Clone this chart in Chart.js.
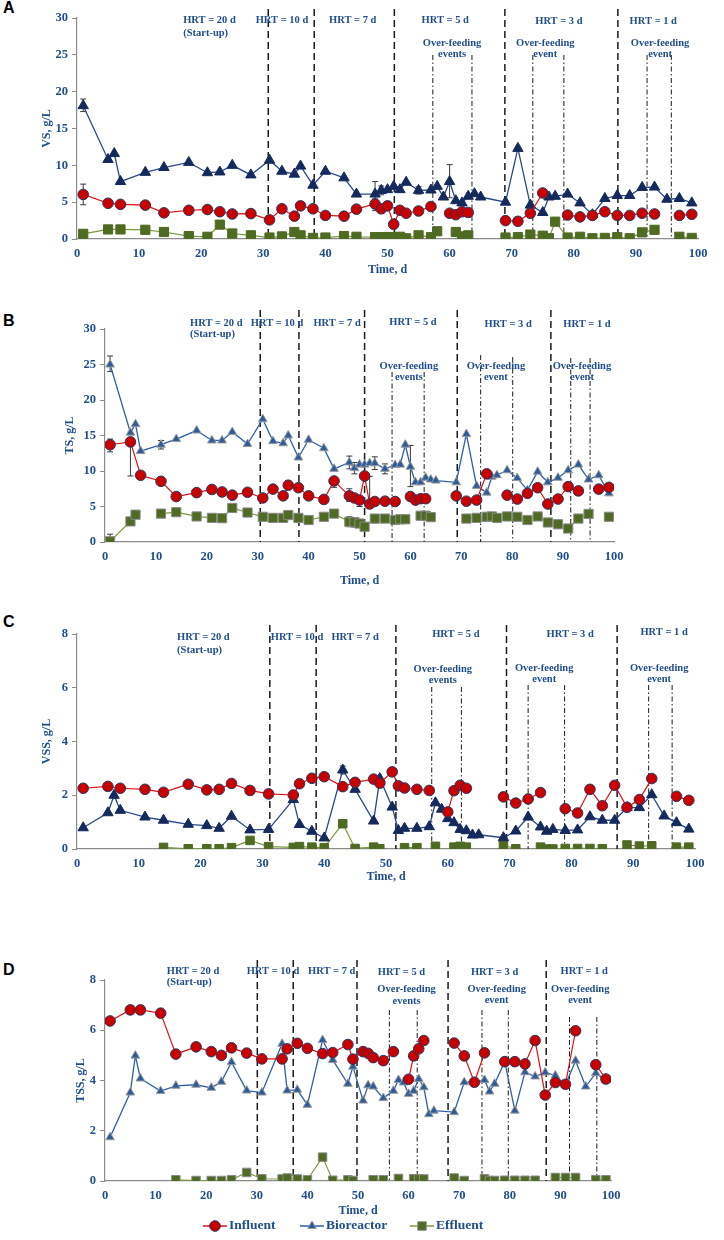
<!DOCTYPE html>
<html>
<head>
<meta charset="utf-8">
<script src="https://cdn.jsdelivr.net/npm/chart.js@4.4.1/dist/chart.umd.min.js"></script>
<style>
  body { margin: 0; background: #fff; width: 724px; height: 1240px; position: relative; overflow: hidden; }
  canvas { position: absolute; left: 0; }
  .tag { position: absolute; left: 3px; font: bold 16px "Liberation Sans", Arial, sans-serif; line-height: 16px; color: #000; }
</style>
</head>
<body>
<div class="tag" style="top:0px">A</div>
<div class="tag" style="top:313px">B</div>
<div class="tag" style="top:614px">C</div>
<div class="tag" style="top:962px">D</div>
<canvas id="cA" width="724" height="290" style="top:0px"></canvas>
<canvas id="cB" width="724" height="300" style="top:290px"></canvas>
<canvas id="cC" width="724" height="300" style="top:590px"></canvas>
<canvas id="cD" width="724" height="350" style="top:890px"></canvas>
<script>
// ---- data (days, g/L); null = break in the line ----
const seriesNames = ["Influent", "Bioreactor", "Effluent"];

// A: VS
const aInfDays = [1,5,7,11,14,18,21,23,25,28,31,33,35,36,38,40,43,45,48,49,50,51,52,53,55,57,59,60,61,62,63,66,69,71,73,75,77,79,81,83,85,87,89,91,93,95,97,99];
const aInf = [6.05,4.85,4.7,4.6,3.55,3.9,4.0,3.7,3.4,3.45,2.6,4.1,3.1,4.5,4.1,3.2,3.1,4.05,4.75,4.1,4.5,2.0,3.9,3.5,3.8,4.4,null,3.5,3.3,3.7,3.6,null,2.5,2.4,3.5,6.25,null,3.25,3.0,3.2,3.7,3.2,3.2,3.5,3.4,null,3.2,3.35];
const aBioDays = [1,5,6,7,11,14,18,21,23,25,28,31,33,35,36,38,40,43,45,48,49,50,51,52,53,55,57,58,59,60,61,62,63,64,65,69,71,73,75,76,77,79,81,83,85,87,89,91,93,95,97,99];
const aBio = [18.1,10.8,11.6,7.8,9.05,9.7,10.4,9.0,9.1,10.0,8.7,10.7,9.2,8.8,9.9,7.3,9.2,8.3,6.1,6.1,6.6,6.7,7.15,6.7,7.7,6.6,6.65,7.15,5.7,7.8,5.2,4.9,5.8,6.15,5.7,5.0,12.3,4.6,3.6,5.7,5.8,6.1,4.9,3.3,5.5,5.9,5.9,7.0,7.05,5.4,5.5,4.9];
const aEffDays = [1,5,7,11,14,18,21,23,25,28,31,33,35,36,38,40,43,45,48,49,50,51,52,53,55,57,58,60,61,62,63,66,69,71,73,75,76,77,79,81,83,85,87,89,91,93,95,97,99];
const aEff = [0.7,1.3,1.3,1.25,0.95,0.4,0.3,1.95,0.75,0.5,0.2,0.35,0.95,0.5,0.15,0.2,0.4,0.3,0.25,0.25,0.25,0.25,0.3,0.1,0.5,0.25,1.05,null,0.95,0.35,0.5,null,0.2,0.25,0.6,0.45,0.1,2.35,0.2,0.3,0.1,0.15,0.25,0.1,0.9,1.25,null,0.3,0.15];
const aInfErr = [[1,1.4,1.4],[48,0.9,0.7],[49,0.6,0.6],[51,0.6,0.6],[73,0.6,0.6]];
const aBioErr = [[1,0.8,0.9],[48,1.6,1.7],[49,0.6,0.6],[55,0.5,0.5],[60,2.2,2.3]];
const aEffErr = [[23,0.5,0.5]];

// B: TS
const bInfDays = [1,5,7,11,14,18,21,23,25,28,31,33,35,36,38,40,43,45,48,49,50,51,52,53,55,57,59,60,61,62,63,66,69,71,73,75,77,79,81,83,85,87,89,91,93,95,97,99];
const bInf = [13.7,14.1,9.4,8.55,6.4,6.95,7.4,7.05,6.6,7.0,6.2,7.45,6.5,8.0,7.65,6.5,6.0,8.6,6.5,6.2,5.9,9.3,5.35,5.7,5.75,5.7,null,6.4,5.9,6.1,6.1,null,6.5,5.75,5.9,9.6,null,6.6,6.05,6.85,7.65,5.35,6.05,7.8,7.2,null,7.45,7.7];
const bBioDays = [1,5,6,7,11,14,18,21,23,25,28,31,33,35,36,38,40,43,45,48,49,50,51,52,53,55,57,58,59,60,61,62,63,64,65,69,71,73,75,76,77,79,81,83,85,87,89,91,93,95,97,99];
const bBio = [25.0,15.4,16.6,12.8,13.7,14.5,15.7,14.3,14.3,15.5,13.8,17.3,14.2,13.9,15.0,11.9,14.4,13.2,10.3,11.2,10.4,10.9,10.9,11.1,11.1,10.3,10.85,10.9,13.7,10.6,8.4,8.4,9.05,8.8,8.65,8.4,15.2,7.9,6.95,9.2,9.4,10.1,9.0,7.3,9.9,8.4,9.05,10.1,10.9,8.8,9.4,6.85];
const bEffDays = [1,5,6,7,11,14,18,21,23,25,28,31,33,35,36,38,40,43,45,48,49,50,51,53,55,57,58,59,60,62,63,64,66,71,73,75,76,77,79,81,83,85,87,89,91,93,95,97,99];
const bEff = [0.1,2.9,3.85,null,4.0,4.2,3.6,3.4,3.35,4.8,4.15,3.55,3.4,3.4,3.8,3.4,3.1,3.55,4.0,2.85,2.8,2.6,2.15,3.3,3.3,3.1,3.2,3.2,null,3.7,3.7,3.5,null,3.3,3.4,3.55,3.6,3.4,3.6,3.55,3.1,3.6,2.75,2.5,1.9,3.3,3.95,null,3.55];
const bInfErr = [[1,1.0,0.8],[5,4.8,0.5],[36,0,0.6],[45,0.9,0],[48,0.8,1.0],[50,0.9,0],[52,0,3.9]];
const bBioErr = [[1,1.0,1.2],[11,0.6,0.6],[48,0.9,0.9],[49,0.8,0.8],[53,0.9,0.9],[55,0.7,0.7],[60,2.8,3.0]];
const bEffErr = [[1,0,1.0],[48,0.7,0.7],[49,0.7,0.5],[53,0.6,0.5],[55,0.5,0.5]];

// C: VSS
const cInfDays = [1,5,7,11,14,18,21,23,25,28,31,35,36,38,40,43,45,48,49,51,52,53,55,57,59,60,61,62,63,66,69,71,73,75,77,79,81,83,85,87,89,91,93,95,97,99];
const cInf = [2.26,2.33,2.26,2.22,2.11,2.41,2.2,2.22,2.44,2.18,2.05,2.01,2.43,2.63,2.69,2.32,2.48,2.6,2.45,2.87,2.35,2.27,2.22,2.18,null,1.38,2.17,2.37,2.26,null,1.94,1.71,1.86,2.1,null,1.5,1.34,2.22,1.61,2.37,1.55,1.84,2.62,null,1.96,1.81];
const cBioDays = [1,5,6,7,11,14,18,21,23,25,28,31,35,36,38,40,43,45,48,49,51,52,53,55,57,58,59,60,61,62,63,64,65,69,71,73,75,76,77,79,81,83,85,87,89,91,93,95,97,99];
const cBio = [0.79,1.35,2.0,1.44,1.19,1.07,0.92,0.87,0.77,1.22,0.71,0.73,1.84,0.91,0.66,0.41,2.94,2.22,1.04,2.62,1.56,0.69,0.77,0.77,0.83,1.72,1.48,1.13,0.98,0.73,0.68,0.52,0.53,0.42,0.67,1.19,0.82,0.66,0.73,0.69,0.71,1.2,1.07,1.07,1.54,1.54,2.02,1.23,0.98,0.74];
const cEffDays = [14,18,21,23,25,28,31,35,36,38,40,43,45,48,49,51,53,55,56,58,60,61,62,63,66,69,71,73,75,76,77,79,81,83,85,87,89,91,93,95,97,99];
const cEff = [0.06,0.01,0.01,0.01,0.05,0.32,0.09,0.06,0.09,0.07,0.05,0.94,0.02,0.07,0.01,null,0.05,0.05,null,0.1,null,0.07,0.1,0.07,null,0.14,0.01,null,0.07,0.0,0.0,0.02,0.02,0.02,0.01,null,0.15,0.11,0.12,null,0.07,0.07];
const cBioErr = [[43,0.15,0.15]];

// D: TSS
const dInfDays = [1,5,7,11,14,18,21,23,25,28,31,35,36,38,40,43,45,48,49,51,52,53,55,57,59,60,61,62,63,66,69,71,73,75,77,79,81,83,85,87,89,91,93,95,97,99];
const dInf = [6.37,6.81,6.81,6.68,5.05,5.34,5.15,5.0,5.3,5.09,4.86,4.86,5.26,5.48,5.28,5.07,5.11,5.43,4.85,5.15,5.08,4.91,4.79,5.15,null,4.05,4.98,5.26,5.59,null,5.49,4.98,3.93,5.1,null,4.75,4.75,4.66,5.59,3.42,3.92,3.85,5.98,null,4.63,4.06];
const dBioDays = [1,5,6,7,11,14,18,21,23,25,28,31,35,36,38,40,43,45,48,49,51,52,53,55,57,58,59,60,61,62,63,64,65,69,71,73,75,76,77,79,81,83,85,87,89,91,93,95,97,99];
const dBio = [1.74,3.52,4.99,4.08,3.58,3.79,3.83,3.71,3.95,4.73,3.6,3.52,5.46,3.6,3.63,3.03,5.61,4.82,3.87,4.55,3.2,3.81,3.76,3.3,3.59,4.02,3.92,3.47,3.59,4.06,3.73,2.66,2.8,2.74,3.93,3.93,4.02,3.56,3.87,4.75,2.8,4.33,4.16,4.32,4.2,3.83,4.79,3.76,4.29,4.0];
const dEffDays = [14,18,21,23,25,28,31,35,36,38,40,43,45,48,49,51,53,55,56,58,60,61,62,63,66,69,71,73,75,76,77,79,81,83,85,87,89,91,93,95,97,99];
const dEff = [0.05,0.02,0.02,0.02,0.05,0.34,0.09,0.08,0.12,0.08,0.05,0.95,0.03,0.05,0.02,null,0.05,0.05,null,0.1,null,0.09,0.09,0.08,null,0.12,0.02,null,0.09,0.02,0.02,0.03,0.03,0.03,0.03,null,0.14,0.14,0.14,null,0.05,0.05];

// HRT changes (dashed) and over-feeding events (dash-dot), in days
const hrtA = [30.8, 38.2, 51.1, 68.9, 87.1];
const feedA = [57.3, 63.6, 73.4, 78.4, 91.8, 95.7];
const hrtB = [30.5, 38.1, 51.0, 69.2, 87.6];
const feedB = [56.4, 62.7, 73.8, 80.1, 91.5, 95.3];
const hrtC = [31.2, 38.7, 51.6, 69.5, 87.4];
const feedC = [57.4, 62.2, 73.0, 78.9, 92.5, 96.3];
const hrtD = [30.1, 37.2, 49.8, 67.8, 87.2];
const feedD = [56.2, 61.7, 74.5, 79.7, 91.8, 97.2];

const noteText = ["HRT = 20 d", "(Start-up)", "HRT = 10 d", "HRT = 7 d", "HRT = 5 d", "Over-feeding", "events",
                  "HRT = 3 d", "Over-feeding", "event", "HRT = 1 d", "Over-feeding", "event"];

const BLUE = "#1F4E8C";
const SERIF = '"Liberation Serif", "Times New Roman", serif';
const AXIS = "#8c8c8c";

function pts(days, vals) {
    return days.map((d, i) => ({ x: d, y: vals[i] }));
}

function font(size) {
    return { family: SERIF, weight: "bold", size: size };
}

// vertical lines, error bars, notes
const overlay = {
    id: "overlay",
    beforeDatasetsDraw(chart, args, o) {
        const { ctx, chartArea: ca, scales: { x, y } } = chart;
        ctx.save();
        ctx.strokeStyle = "#1a1a1a";
        ctx.lineWidth = 1.5;
        ctx.setLineDash([7, 4]);
        o.hrt.forEach(d => {
            const px = x.getPixelForValue(d);
            ctx.beginPath();
            ctx.moveTo(px, ca.top + o.hrtTop);
            ctx.lineTo(px, ca.bottom);
            ctx.stroke();
        });
        ctx.lineWidth = 1;
        ctx.setLineDash([5, 2.5, 1.5, 2.5]);
        o.feed.forEach((d, i) => {
            const px = x.getPixelForValue(d);
            ctx.beginPath();
            ctx.moveTo(px, ca.top + o.feedTop[i]);
            ctx.lineTo(px, ca.bottom);
            ctx.stroke();
        });
        // error bars
        ctx.setLineDash([]);
        ctx.strokeStyle = "#3a3a3a";
        ctx.lineWidth = 1;
        chart.data.datasets.forEach(ds => {
            (ds.errs || []).forEach(([d, lo, hi]) => {
                const pt = ds.data.find(p => p.x === d);
                if (!pt || pt.y == null) return;
                const px = x.getPixelForValue(d);
                const y1 = y.getPixelForValue(pt.y - lo), y2 = y.getPixelForValue(pt.y + hi);
                ctx.beginPath();
                ctx.moveTo(px, y1); ctx.lineTo(px, y2);
                if (lo > 0) { ctx.moveTo(px - 3, y1); ctx.lineTo(px + 3, y1); }
                if (hi > 0) { ctx.moveTo(px - 3, y2); ctx.lineTo(px + 3, y2); }
                ctx.stroke();
            });
        });
        ctx.restore();
    },
    afterDraw(chart, args, o) {
        const { ctx, chartArea: ca, scales: { x } } = chart;
        ctx.save();
        ctx.fillStyle = BLUE;
        ctx.font = "bold 10.5px " + SERIF;
        ctx.textBaseline = "middle";
        noteText.forEach((t, i) => {
            ctx.textAlign = i < 2 ? "left" : "center";
            ctx.fillText(t, x.getPixelForValue(o.noteX[i]), ca.top + o.noteDy[i]);
        });
        if (o.legendY) {
            const ds = chart.data.datasets;
            o.legendX.forEach((lx, i) => {
                const s = ds[i];
                ctx.strokeStyle = s.borderColor;
                ctx.lineWidth = 1.5;
                ctx.beginPath();
                ctx.moveTo(lx - 12, o.legendY);
                ctx.lineTo(lx + 12, o.legendY);
                ctx.stroke();
                ctx.fillStyle = s.pointBackgroundColor;
                ctx.strokeStyle = s.pointBorderColor;
                ctx.lineWidth = 1;
                Chart.helpers.drawPoint(ctx, { pointStyle: s.pointStyle, radius: s.pointRadius, borderWidth: 1, rotation: 0 }, lx, o.legendY);
                ctx.fillStyle = BLUE;
                ctx.font = "bold 13.5px " + SERIF;
                ctx.textAlign = "left";
                ctx.fillText(seriesNames[i], lx + 14, o.legendY);
            });
        }
        ctx.restore();
    }
};

function makePanel(p) {
    const tsz = 12, lh = tsz * 1.2;
    const padLeft = p.yTitleX - lh / 2;
    const yW = p.plot.l - padLeft;
    const xH = p.xTitleY + lh / 2 - p.plot.b;
    const datasets = [
        {
            label: seriesNames[0], data: pts(p.inf[0], p.inf[1]), errs: p.inf[2],
            borderColor: "#E01010", borderWidth: 1.2,
            pointStyle: "circle", pointRadius: 5.3, pointBackgroundColor: "#C80000",
            pointBorderColor: "#2B3560", pointBorderWidth: 1
        },
        {
            label: seriesNames[1], data: pts(p.bio[0], p.bio[1]), errs: p.bio[2],
            borderColor: p.bioLine, borderWidth: 1.3,
            pointStyle: "triangle", pointRadius: p.triR, pointBackgroundColor: p.bioFill,
            pointBorderColor: p.bioEdge, pointBorderWidth: 1
        },
        {
            label: seriesNames[2], data: pts(p.eff[0], p.eff[1]), errs: p.eff[2],
            borderColor: "#7A9A3C", borderWidth: 1.2,
            pointStyle: "rect", pointRadius: p.sqR, pointBackgroundColor: "#4F6A22",
            pointBorderColor: p.effEdge, pointBorderWidth: 1
        }
    ];
    return new Chart(document.getElementById(p.id), {
        type: "line",
        data: { datasets },
        options: {
            responsive: false,
            animation: false,
            spanGaps: false,
            layout: {
                padding: {
                    left: padLeft, right: 724 - p.plot.r, top: p.plot.t - p.top,
                    bottom: p.top + p.h - (p.xTitleY + lh / 2)
                }
            },
            plugins: {
                legend: { display: false },
                tooltip: { enabled: false },
                overlay: {
                    hrt: p.hrt, feed: p.feed, hrtTop: p.hrtTop, feedTop: p.feedTop,
                    noteX: p.noteX, noteDy: p.noteDy, legendY: p.legendY, legendX: p.legendX
                }
            },
            scales: {
                x: {
                    type: "linear", min: 0, max: 100,
                    ticks: { stepSize: 10, color: BLUE, font: font(12.5), padding: -1, maxRotation: 0 },
                    grid: { display: false },
                    border: { color: AXIS, width: 1.2 },
                    title: { display: true, text: "Time, d", color: BLUE, font: font(tsz), padding: 0 },
                    afterFit(s) { s.height = xH; }
                },
                y: {
                    min: 0, max: p.ymax,
                    ticks: { stepSize: p.step, color: BLUE, font: font(12.5), padding: 4 },
                    grid: { display: true, drawOnChartArea: false, tickLength: 5, color: AXIS },
                    border: { color: AXIS, width: 1.2 },
                    title: { display: true, text: p.ytitle, color: BLUE, font: font(tsz), padding: 0 },
                    afterFit(s) { s.width = yW; }
                }
            }
        },
        plugins: [overlay]
    });
}

makePanel({
    id: "cA", top: 0, h: 290, plot: { l: 77, r: 698, t: 18, b: 239 }, yTitleX: 47, xTitleY: 270,
    ymax: 30, step: 5, ytitle: "VS, g/L",
    inf: [aInfDays, aInf, aInfErr], bio: [aBioDays, aBio, aBioErr], eff: [aEffDays, aEff, aEffErr],
    bioLine: "#27498A", bioFill: "#142A5C", bioEdge: "#142A5C", effEdge: "#4F6A22", triR: 6, sqR: 6.5,
    hrt: hrtA, feed: feedA, hrtTop: -9, feedTop: [37, 37, 37, 37, 37, 37],
    noteX: [17.1, 17.1, 33.0, 44.4, 59.3, 60.4, 60.4, 77.6, 75.4, 75.4, 92.8, 93.9, 93.9],
    noteDy: [2, 15, 2, 2, 2, 25, 36, 3, 25, 36, 3, 25, 36]
});

makePanel({
    id: "cB", top: 290, h: 300, plot: { l: 105, r: 614, t: 329, b: 542 }, yTitleX: 70, xTitleY: 581,
    ymax: 30, step: 5, ytitle: "TS, g/L",
    inf: [bInfDays, bInf, bInfErr], bio: [bBioDays, bBio, bBioErr], eff: [bEffDays, bEff, bEffErr],
    bioLine: "#2F5FA6", bioFill: "#2E5C9A", bioEdge: "#9a9a9a", effEdge: "#8a8a8a", triR: 5, sqR: 6.5,
    hrt: hrtB, feed: feedB, hrtTop: -19, feedTop: [43, 43, 26, 28, 29, 29],
    noteX: [16.7, 16.7, 33.8, 45.6, 60.5, 59.7, 59.7, 79.2, 76.8, 76.8, 94.7, 93.7, 93.7],
    noteDy: [-6, 5, -6, -6, -7, 37, 48, -5, 37, 48, -5, 37, 48]
});

makePanel({
    id: "cC", top: 590, h: 300, plot: { l: 77, r: 695, t: 634, b: 849 }, yTitleX: 47, xTitleY: 877,
    ymax: 8, step: 2, ytitle: "VSS, g/L",
    inf: [cInfDays, cInf, []], bio: [cBioDays, cBio, cBioErr], eff: [cEffDays, cEff, []],
    bioLine: "#27498A", bioFill: "#142A5C", bioEdge: "#142A5C", effEdge: "#4F6A22", triR: 6, sqR: 6,
    hrt: hrtC, feed: feedC, hrtTop: -9, feedTop: [53, 53, 51, 51, 51, 51],
    noteX: [16.2, 16.2, 35.6, 45.0, 61.3, 59.2, 59.2, 79.8, 75.6, 75.6, 95.0, 94.2, 94.2],
    noteDy: [3, 16, 3, 3, 0, 35, 46, 0, 34, 45, -2, 34, 45]
});

makePanel({
    id: "cD", top: 890, h: 350, plot: { l: 105, r: 611, t: 980, b: 1181 }, yTitleX: 81, xTitleY: 1211,
    ymax: 8, step: 2, ytitle: "TSS, g/L",
    inf: [dInfDays, dInf, []], bio: [dBioDays, dBio, []], eff: [dEffDays, dEff, []],
    bioLine: "#2F5FA6", bioFill: "#2E5C9A", bioEdge: "#9a9a9a", effEdge: "#8a8a8a", triR: 5, sqR: 6,
    hrt: hrtD, feed: feedD, hrtTop: -20, feedTop: [30, 30, 30, 30, 37, 37],
    noteX: [12.2, 12.2, 33.2, 44.8, 58.6, 59.6, 59.6, 77.0, 77.4, 77.4, 94.7, 93.9, 93.9],
    noteDy: [-9, 2, -9, -9, -8, 9, 21, -8, 9, 20, -9, 9, 20],
    legendY: 336, legendX: [215, 312, 422]
});
</script>
</body>
</html>
